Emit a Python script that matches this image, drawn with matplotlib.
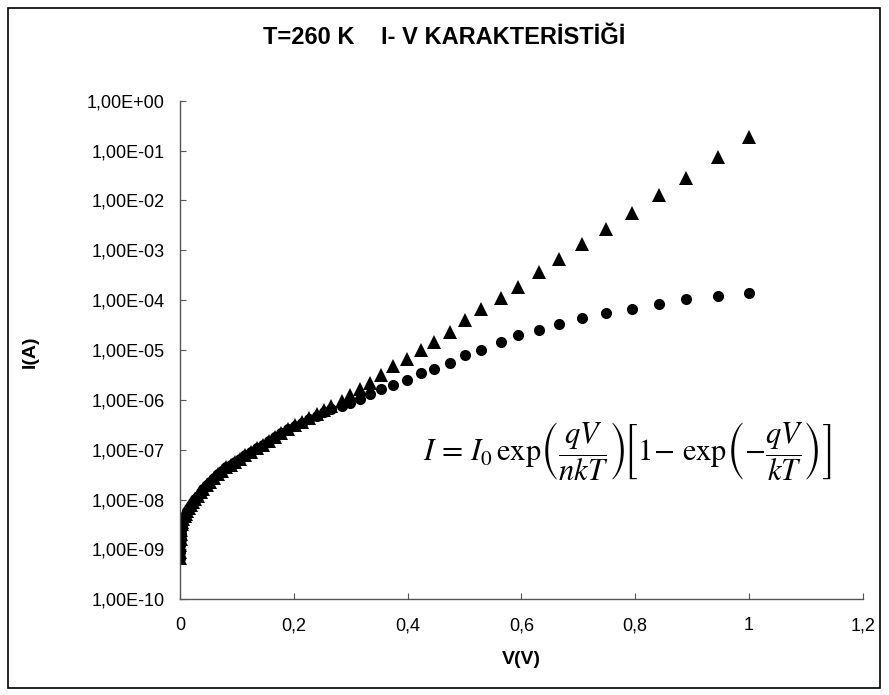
import matplotlib
matplotlib.use("Agg")
import matplotlib.pyplot as plt
from matplotlib.patches import Rectangle
from matplotlib.ticker import FixedLocator, FuncFormatter, NullLocator

plt.rcParams['font.family'] = ['Liberation Sans', 'DejaVu Sans']
plt.rcParams['mathtext.fontset'] = 'stix'

# voltage (V), shared by both series
voltage = [0.000, 0.000, 0.000, 0.001, 0.001, 0.002, 0.003, 0.004, 0.006, 0.008,
           0.010, 0.013, 0.016, 0.019, 0.023, 0.027, 0.031, 0.036, 0.041, 0.047,
           0.053, 0.059, 0.066, 0.073, 0.081, 0.089, 0.097, 0.106, 0.115, 0.125,
           0.135, 0.145, 0.156, 0.167, 0.178, 0.190, 0.202, 0.214, 0.227, 0.240,
           0.253, 0.266, 0.284, 0.299, 0.316, 0.334, 0.354, 0.374, 0.3995, 0.423,
           0.447, 0.4745, 0.501, 0.5295, 0.564, 0.5945, 0.6315, 0.6666, 0.707, 0.749,
           0.794, 0.842, 0.890, 0.945, 1.000]

# current (A), triangles
current_tri = [6.6e-10, 8.9e-10, 1.2e-9, 1.6e-9, 2.0e-9, 2.5e-9, 3.2e-9, 3.6e-9, 4.0e-9, 4.6e-9,
               5.1e-9, 5.9e-9, 6.8e-9, 7.8e-9, 8.9e-9, 1.05e-8, 1.2e-8, 1.41e-8, 1.66e-8, 1.95e-8,
               2.3e-8, 2.7e-8, 3.2e-8, 3.7e-8, 4.4e-8, 5.0e-8, 5.8e-8, 6.6e-8, 7.8e-8, 9.1e-8,
               1.07e-7, 1.26e-7, 1.51e-7, 1.82e-7, 2.14e-7, 2.6e-7, 3.1e-7, 3.6e-7, 4.4e-7, 5.2e-7,
               6.3e-7, 7.6e-7, 9.5e-7, 1.26e-6, 1.66e-6, 2.2e-6, 3.2e-6, 4.7e-6, 6.6e-6, 9.8e-6,
               1.48e-5, 2.34e-5, 4.0e-5, 6.6e-5, 1.12e-4, 1.86e-4, 3.7e-4, 6.6e-4, 1.32e-3, 2.7e-3,
               5.6e-3, 1.29e-2, 2.88e-2, 7.59e-2, 1.86e-1]

# current (A), circles
current_circ = [6.6e-10, 8.9e-10, 1.2e-9, 1.6e-9, 2.0e-9, 2.5e-9, 3.2e-9, 3.6e-9, 4.0e-9, 4.6e-9,
                5.1e-9, 5.9e-9, 6.8e-9, 7.8e-9, 8.9e-9, 1.05e-8, 1.2e-8, 1.41e-8, 1.66e-8, 1.95e-8,
                2.3e-8, 2.7e-8, 3.2e-8, 3.7e-8, 4.4e-8, 5.0e-8, 5.8e-8, 6.6e-8, 7.8e-8, 9.1e-8,
                1.07e-7, 1.26e-7, 1.51e-7, 1.82e-7, 2.14e-7, 2.6e-7, 3.0e-7, 3.5e-7, 4.1e-7, 4.8e-7,
                5.6e-7, 6.6e-7, 7.4e-7, 8.7e-7, 1.05e-6, 1.32e-6, 1.66e-6, 2.0e-6, 2.5e-6, 3.4e-6,
                4.2e-6, 5.6e-6, 7.8e-6, 1.02e-5, 1.48e-5, 2.0e-5, 2.5e-5, 3.3e-5, 4.3e-5, 5.4e-5,
                6.6e-5, 8.3e-5, 1.05e-4, 1.20e-4, 1.41e-4]

x_ticks = [0, 0.2, 0.4, 0.6, 0.8, 1.0, 1.2]
y_ticks = [1e-10, 1e-9, 1e-8, 1e-7, 1e-6, 1e-5, 1e-4, 1e-3, 1e-2, 1e-1, 1e0]

fig = plt.figure(figsize=(8.89, 6.95), dpi=100)
ax = fig.add_axes([0.2025, 0.1377, 0.768, 0.7174])

ax.plot(voltage, current_circ, 'o', color='black', markersize=8, markeredgewidth=0)
ax.plot(voltage, current_tri, '^', color='black', markersize=9.5, markeredgewidth=0)

ax.set_yscale('log')
ax.set_xlim(0, 1.2)
ax.set_ylim(1e-10, 1)
ax.xaxis.set_major_locator(FixedLocator(x_ticks))
ax.yaxis.set_major_locator(FixedLocator(y_ticks))
ax.yaxis.set_minor_locator(NullLocator())
ax.xaxis.set_major_formatter(FuncFormatter(lambda v, p: f"{v:g}".replace('.', ',')))
ax.yaxis.set_major_formatter(FuncFormatter(lambda v, p: f"{v:.2E}".replace('.', ',')))

for s in ['top', 'right']:
    ax.spines[s].set_visible(False)
for s in ['left', 'bottom']:
    ax.spines[s].set_color('#555555')
    ax.spines[s].set_linewidth(1)
ax.tick_params(axis='both', direction='in', length=4, color='#555555', labelsize=13)
ax.tick_params(axis='y', pad=11)
ax.tick_params(axis='x', pad=13)

fig.text(0.5, 1 - 38 / 695, 'T=260 K    I- V KARAKTERİSTİĞİ', ha='center', va='center',
         fontsize=17, fontweight='bold')
fig.text(521 / 889, 1 - 660 / 695, 'V(V)', ha='center', va='center', fontsize=14, fontweight='bold')
fig.text(30 / 889, 1 - 352 / 695, 'I(A)', ha='center', va='center', rotation=90,
         fontsize=14, fontweight='bold')

formula = (r'$I\,=\,I_0\,\exp\!\left(\dfrac{qV}{nkT}\right)\!\left[1\!-\,\exp\!\left(-\dfrac{qV}{kT}\right)\right]$')
fig.text(627 / 889, 1 - 452 / 695, formula, ha='center', va='center', fontsize=22)

fig.patches.append(Rectangle((8 / 889, 7 / 695), 872 / 889, 680 / 695, transform=fig.transFigure,
                             fill=False, edgecolor='black', linewidth=1.2))

fig.savefig('out.png', dpi=100)
